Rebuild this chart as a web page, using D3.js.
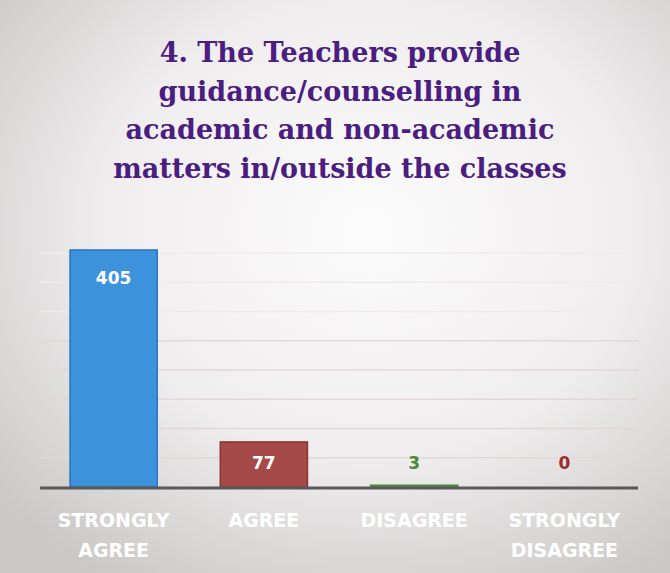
<!DOCTYPE html>
<html>
<head>
<meta charset="utf-8">
<script src="https://cdn.jsdelivr.net/npm/d3@7"></script>
<style>
  html, body { margin: 0; padding: 0; }
  body { width: 670px; height: 573px; overflow: hidden; }
</style>
</head>
<body>
<div class="chart"></div>
<script>
const titleLines = ['4. The Teachers provide', 'guidance/counselling in', 'academic and non-academic', 'matters in/outside the classes'];
const categories = [['STRONGLY', 'AGREE'], ['AGREE'], ['DISAGREE'], ['STRONGLY', 'DISAGREE']];
const values = [405, 77, 3, 0];
const gridTicks = [50, 100, 150, 200, 250, 300, 350, 400];

const barFill = ['#3d92dc', '#a54a48', '#5a9a4a', '#c03a3a'];
const barEdge = ['#2a72c4', '#8c3432', '#4a8a3a', '#a02a2a'];

const width = 670, height = 573;
const margin = {top: 200, right: 32, bottom: 86, left: 40};

const svg = d3.select('.chart')
	.append('svg')
	.attr('width', width)
	.attr('height', height);

// photographed paper look
const defs = svg.append('defs');
const bg = defs.append('radialGradient')
	.attr('id', 'bg')
	.attr('cx', '0.55').attr('cy', '0.40').attr('r', '0.72');
bg.append('stop').attr('offset', '0%').attr('stop-color', '#fdfcfc');
bg.append('stop').attr('offset', '55%').attr('stop-color', '#efeded');
bg.append('stop').attr('offset', '100%').attr('stop-color', '#cbc8c8');

svg.append('rect')
	.attr('width', width).attr('height', height)
	.attr('fill', 'url(#bg)');

// title
svg.append('text')
	.attr('x', 340)
	.attr('y', 62)
	.attr('text-anchor', 'middle')
	.attr('font-family', 'DejaVu Serif')
	.attr('font-weight', 'bold')
	.attr('font-size', 27)
	.attr('fill', '#4b1d80')
	.selectAll('tspan')
	.data(titleLines)
	.join('tspan')
	.attr('x', 340)
	.attr('dy', (d, i) => i === 0 ? 0 : 38.7)
	.text(d => d);

const x = d3.scaleBand()
	.domain(d3.range(categories.length))
	.range([margin.left, width - margin.right])
	.paddingInner(0.42)
	.paddingOuter(0.2);

const y = d3.scaleLinear()
	.domain([0, 405])
	.range([height - margin.bottom, 250]);

// faint gridlines
svg.append('g')
	.selectAll('line')
	.data(gridTicks)
	.join('line')
	.attr('x1', margin.left)
	.attr('x2', width - margin.right)
	.attr('y1', d => y(d))
	.attr('y2', d => y(d))
	.attr('stroke', (d, i) => i < 5 ? '#e2d8d6' : '#efebea')
	.attr('stroke-width', 1.5);

// bars
svg.append('g')
	.selectAll('rect')
	.data(values)
	.join('rect')
	.attr('x', (d, i) => x(i))
	.attr('y', d => y(d))
	.attr('width', x.bandwidth())
	.attr('height', d => y(0) - y(d))
	.attr('fill', (d, i) => barFill[i])
	.attr('stroke', (d, i) => barEdge[i])
	.attr('stroke-width', 1.5);

// axis line
svg.append('line')
	.attr('x1', margin.left)
	.attr('x2', width - margin.right)
	.attr('y1', y(0) + 1)
	.attr('y2', y(0) + 1)
	.attr('stroke', '#5a5858')
	.attr('stroke-width', 3);

// value labels
svg.append('g')
	.selectAll('text')
	.data(values)
	.join('text')
	.attr('x', (d, i) => x(i) + x.bandwidth() / 2)
	.attr('y', d => Math.min(y(d) + 34, y(0) - 18))
	.attr('text-anchor', 'middle')
	.attr('font-family', 'DejaVu Sans')
	.attr('font-weight', 'bold')
	.attr('font-size', 17)
	.attr('fill', (d, i) => d > 50 ? '#ffffff' : barEdge[i])
	.text(d => d);

// category labels
svg.append('g')
	.selectAll('text')
	.data(categories)
	.join('text')
	.attr('x', (d, i) => x(i) + x.bandwidth() / 2)
	.attr('y', 527)
	.attr('text-anchor', 'middle')
	.attr('font-family', 'DejaVu Sans')
	.attr('font-weight', 'bold')
	.attr('font-size', 19)
	.attr('fill', '#ffffff')
	.each(function(d) {
		d3.select(this).selectAll('tspan')
			.data(d)
			.join('tspan')
			.attr('x', d3.select(this).attr('x'))
			.attr('dy', (t, j) => j === 0 ? 0 : 30)
			.text(t => t);
	});
</script>
</body>
</html>
